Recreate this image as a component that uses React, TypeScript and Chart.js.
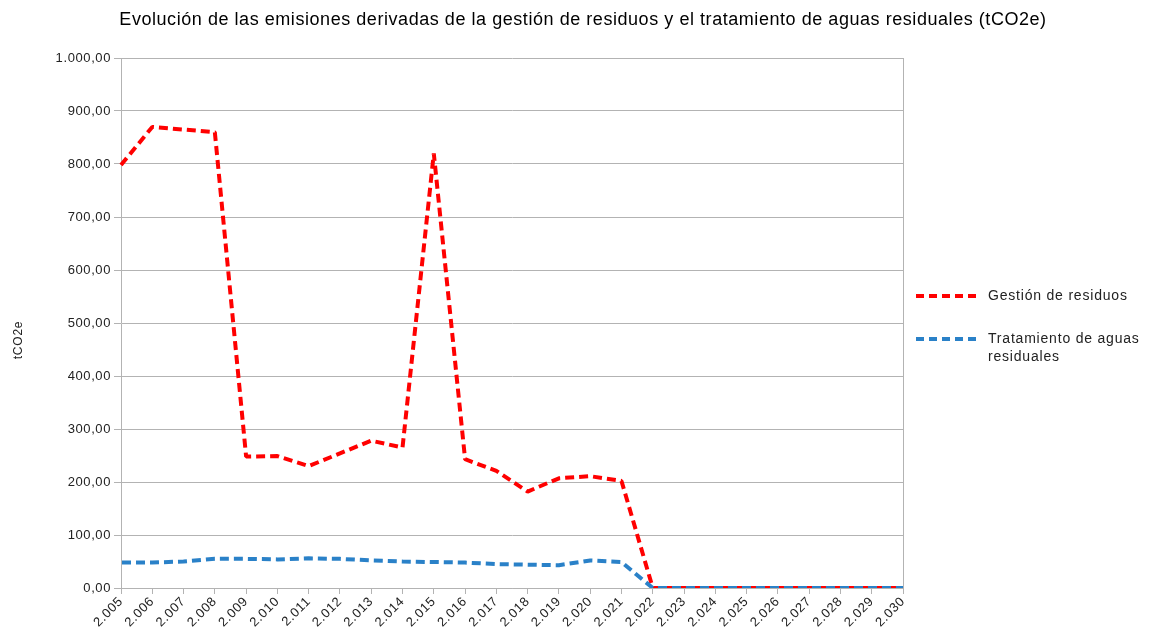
import React, { useEffect, useRef } from "react";
import { Chart, registerables } from "chart.js";

Chart.register(...registerables);

const years: string[] = [
  "2.005", "2.006", "2.007", "2.008", "2.009", "2.010", "2.011", "2.012", "2.013",
  "2.014", "2.015", "2.016", "2.017", "2.018", "2.019", "2.020", "2.021", "2.022",
  "2.023", "2.024", "2.025", "2.026", "2.027", "2.028", "2.029", "2.030",
];

const gestionResiduos: number[] = [
  798, 870, 865, 860, 248, 249, 230, 254, 278, 265, 820, 243, 221, 182, 207, 211, 202,
  0, 0, 0, 0, 0, 0, 0, 0, 0,
];

const tratamientoAguas: number[] = [
  48, 48, 50, 55, 55, 54, 56, 55, 52, 50, 49, 48, 45, 44, 43, 52, 49,
  0, 0, 0, 0, 0, 0, 0, 0, 0,
];

const seriesNames: string[] = ["Gestión de residuos", "Tratamiento de aguas residuales"];
const legendLines: string[][] = [["Gestión de residuos"], ["Tratamiento de aguas", "residuales"]];
const chartTitle =
  "Evolución de las emisiones derivadas de la gestión de residuos y el tratamiento de aguas residuales (tCO2e)";
const yAxisTitle = "tCO2e";

const RED = "#ff0000";
const BLUE = "#2a81c8";
const FONT = "'Liberation Sans', Arial, sans-serif";
const SPACING = "0.6px";

function fmt(v: number): string {
  const fixed = Math.abs(v).toFixed(2);
  const [intPart, dec] = fixed.split(".");
  const withDots = intPart.replace(/\B(?=(\d{3})+(?!\d))/g, ".");
  return (v < 0 ? "-" : "") + withDots + "," + dec;
}

const spacingPlugin = {
  id: "spacing",
  beforeLayout(chart: any) {
    chart.ctx.letterSpacing = SPACING;
  },
  beforeDraw(chart: any) {
    chart.ctx.letterSpacing = SPACING;
  },
};

const decorPlugin = {
  id: "decor",
  afterDraw(chart: any) {
    const ctx = chart.ctx;
    const area = chart.chartArea;
    ctx.save();
    // right border of plot
    ctx.strokeStyle = "#b3b3b3";
    ctx.lineWidth = 1;
    ctx.beginPath();
    ctx.moveTo(Math.round(area.right) + 0.5, area.top);
    ctx.lineTo(Math.round(area.right) + 0.5, area.bottom);
    ctx.stroke();

    // title
    ctx.fillStyle = "#000";
    ctx.letterSpacing = "0.55px";
    ctx.font = `18px ${FONT}`;
    ctx.textAlign = "center";
    ctx.textBaseline = "middle";
    ctx.fillText(chartTitle, 583, 20);

    // y axis title
    ctx.save();
    ctx.translate(19, 340);
    ctx.rotate(-Math.PI / 2);
    ctx.letterSpacing = "0.8px";
    ctx.font = `12px ${FONT}`;
    ctx.fillStyle = "#222";
    ctx.fillText(yAxisTitle, 0, 0);
    ctx.restore();

    // legend
    const ys = [296, 339];
    chart.data.datasets.forEach((ds: any, i: number) => {
      const y = ys[i];
      ctx.strokeStyle = ds.borderColor;
      ctx.lineWidth = ds.borderWidth;
      ctx.setLineDash([8, 5]);
      ctx.beginPath();
      ctx.moveTo(916, y);
      ctx.lineTo(981, y);
      ctx.stroke();
      ctx.setLineDash([]);
      ctx.fillStyle = "#222";
      ctx.letterSpacing = "0.8px";
      ctx.font = `14px ${FONT}`;
      ctx.textAlign = "left";
      ctx.textBaseline = "middle";
      legendLines[i].forEach((line, j) => {
        ctx.fillText(line, 988, y + j * 18);
      });
    });
    ctx.restore();
  },
};

export default function App() {
  const ref = useRef<HTMLCanvasElement | null>(null);

  useEffect(() => {
    document.body.style.margin = "0";
    const canvas = ref.current;
    if (!canvas) return;
    const chart = new Chart(canvas, {
      type: "line",
      data: {
        labels: years,
        datasets: [
          {
            label: seriesNames[0],
            data: gestionResiduos,
            borderColor: RED,
            backgroundColor: RED,
            borderWidth: 4,
            borderDash: [9, 5],
            borderJoinStyle: "bevel",
            pointRadius: 0,
            tension: 0,
            fill: false,
            order: 2,
          },
          {
            label: seriesNames[1],
            data: tratamientoAguas,
            borderColor: BLUE,
            backgroundColor: BLUE,
            borderWidth: 4,
            borderDash: [9, 5],
            borderDashOffset: 13,
            borderJoinStyle: "bevel",
            pointRadius: 0,
            tension: 0,
            fill: false,
            order: 1,
          },
        ],
      },
      options: {
        responsive: false,
        animation: false,
        layout: { padding: { top: 58, right: 246, left: 0, bottom: 0 } },
        plugins: {
          legend: { display: false },
          title: { display: false },
          tooltip: { enabled: false },
        },
        scales: {
          x: {
            offset: false,
            grid: {
              display: true,
              drawOnChartArea: false,
              drawTicks: true,
              tickLength: 6,
              color: "#b3b3b3",
            },
            border: { color: "#b3b3b3" },
            ticks: {
              autoSkip: false,
              maxRotation: 45,
              minRotation: 45,
              color: "#222",
              font: { family: FONT, size: 13 },
              padding: 0,
            },
            afterFit(scale: any) {
              scale.height = 44;
            },
          },
          y: {
            min: 0,
            max: 1000,
            grid: {
              color: "#b3b3b3",
              drawTicks: true,
              tickLength: 7,
            },
            border: { color: "#b3b3b3" },
            ticks: {
              stepSize: 100,
              color: "#222",
              font: { family: FONT, size: 13 },
              padding: 3,
              callback: (v: any) => fmt(Number(v)),
            },
            afterFit(scale: any) {
              scale.width = 121;
            },
          },
        },
      },
      plugins: [spacingPlugin, decorPlugin],
    });
    return () => chart.destroy();
  }, []);

  return <canvas ref={ref} width={1149} height={632} style={{ display: "block" }} />;
}
